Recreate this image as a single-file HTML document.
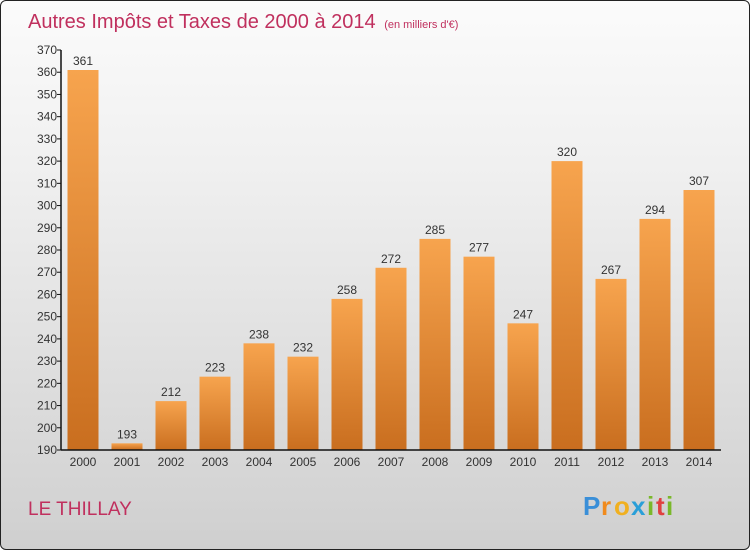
<!DOCTYPE html>
<html><head><meta charset="utf-8"><style>
body{margin:0;width:750px;height:550px;overflow:hidden;font-family:"Liberation Sans",sans-serif}
#wrap{position:absolute;left:0;top:0;width:748px;height:548px;border:1px solid #222;border-radius:6px;background:linear-gradient(#fbfbfb,#f0f0f0 30%,#d4d4d4 90%,#cfcfcf)}
</style></head><body>
<div id="wrap">
<svg id="c" width="750" height="550" style="position:absolute;left:-1px;top:-1px">
<defs><linearGradient id="g" x1="0" y1="0" x2="0" y2="1"><stop offset="0" stop-color="#f7a44e"/><stop offset="1" stop-color="#c96e1f"/></linearGradient></defs>
<text x="28" y="28" font-size="20" fill="#c0305e">Autres Impôts et Taxes de 2000 à 2014 <tspan font-size="11" dx="3">(en milliers d'€)</tspan></text>
<text x="28" y="515" font-size="19" fill="#c0305e">LE THILLAY</text>
<g font-size="26" font-weight="bold">
<text x="583" y="515" fill="#3a8fd8">P</text><text x="601" y="515" fill="#f08a1c">r</text><text x="614" y="515" fill="#f0b020">o</text><text x="631" y="515" fill="#2a9fd8">x</text><text x="647" y="515" fill="#7ab82a">i</text><text x="656" y="515" fill="#e04040">t</text><text x="666" y="515" fill="#7ab82a">i</text>
</g>
</svg></div>
<script>
const years=["2000","2001","2002","2003","2004","2005","2006","2007","2008","2009","2010","2011","2012","2013","2014"];
const values=[361,193,212,223,238,232,258,272,285,277,247,320,267,294,307];
const ticks=[190,200,210,220,230,240,250,260,270,280,290,300,310,320,330,340,350,360,370];
const svg=document.getElementById('c'),NS="http://www.w3.org/2000/svg";
const x0=61,step=44,yBase=450,yTop=50,vMin=190,vMax=370;
const y=v=>yBase-(v-vMin)*(yBase-yTop)/(vMax-vMin);
const xc=i=>x0+step*i+step/2;
function el(t,a,p){const e=document.createElementNS(NS,t);for(const k in a)e.setAttribute(k,a[k]);(p||svg).appendChild(e);return e;}
ticks.forEach(t=>{
 const l=el('line',{x1:x0-4,x2:x0,y1:y(t),y2:y(t),stroke:'#111'});
 
 
 const tx=el('text',{x:x0-4,y:y(t)+4,'text-anchor':'end','font-size':12,fill:'#333'});tx.textContent=t;
 
 
});
values.forEach((v,i)=>{
 const r=el('rect',{x:xc(i)-15.5,y:y(v),width:31,height:yBase-y(v),fill:'url(#g)'});
 
 
 const t=el('text',{x:xc(i),y:y(v)-5,'text-anchor':'middle','font-size':12,fill:'#333'});t.textContent=v;
 
 
 const xl=el('text',{x:xc(i),y:yBase+16,'text-anchor':'middle','font-size':12,fill:'#333'});xl.textContent=years[i];
 
 
});
const ya=el('line',{x1:x0,x2:x0,y1:yTop,y2:yBase,stroke:'#111','stroke-width':1.5});


const xa=el('line',{x1:x0,x2:x0+step*years.length,y1:yBase,y2:yBase,stroke:'#111','stroke-width':1.5});


</script>
</body></html>
